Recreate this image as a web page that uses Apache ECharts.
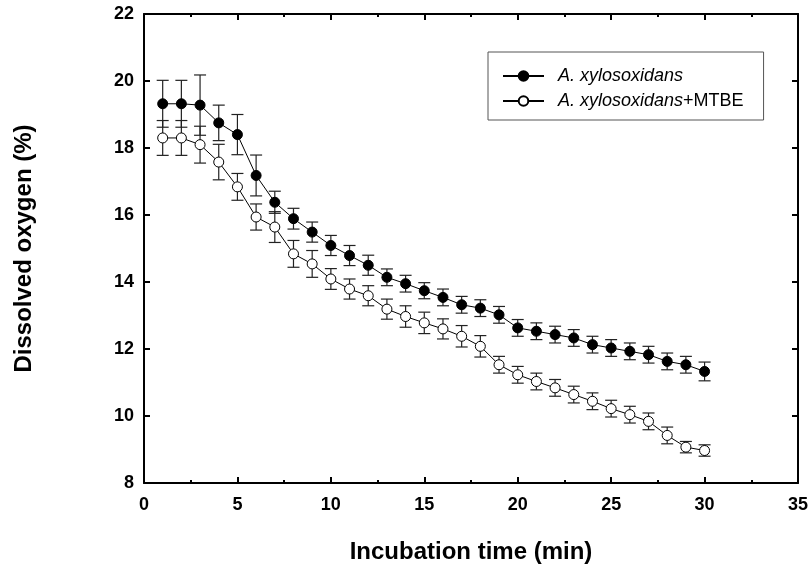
<!DOCTYPE html>
<html>
<head>
<meta charset="utf-8">
<script src="https://cdn.jsdelivr.net/npm/echarts@6/dist/echarts.min.js"></script>
<style>html,body{margin:0;padding:0;background:#fff}#c{width:811px;height:564px}</style>
</head>
<body>
<div id="c"></div>
<script>
const times = [1,2,3,4,5,6,7,8,9,10,11,12,13,14,15,16,17,18,19,20,21,22,23,24,25,26,27,28,29,30];
const seriesAName = 'A. xylosoxidans';
const seriesBName = 'A. xylosoxidans+MTBE';
const meanA = [19.32,19.32,19.28,18.75,18.40,17.18,16.38,15.89,15.49,15.09,14.79,14.50,14.14,13.95,13.74,13.54,13.32,13.22,13.02,12.63,12.53,12.43,12.33,12.13,12.03,11.93,11.83,11.63,11.53,11.33];
const errA  = [0.70,0.70,0.90,0.53,0.60,0.61,0.33,0.31,0.30,0.30,0.30,0.30,0.25,0.25,0.24,0.25,0.25,0.25,0.25,0.25,0.25,0.25,0.25,0.25,0.25,0.25,0.25,0.25,0.25,0.28];
const meanB = [18.30,18.30,18.10,17.58,16.84,15.94,15.64,14.84,14.54,14.09,13.79,13.59,13.19,12.97,12.78,12.60,12.38,12.08,11.53,11.23,11.03,10.84,10.64,10.44,10.22,10.04,9.84,9.42,9.07,8.97];
const errB  = [0.52,0.52,0.55,0.53,0.40,0.39,0.46,0.40,0.40,0.31,0.30,0.30,0.30,0.32,0.32,0.30,0.32,0.32,0.25,0.25,0.25,0.25,0.25,0.25,0.25,0.25,0.25,0.25,0.17,0.17];
const xTitle = 'Incubation time (min)';
const yTitle = 'Dissolved oxygen (%)';

const FONT = '"Liberation Sans", Arial, Helvetica, sans-serif';
const pts = (m) => times.map((t, i) => [t, m[i]]);
const errData = (m, e) => times.map((t, i) => [t, m[i], e[i]]);

function errRender(params, api) {
  const x = api.value(0), y = api.value(1), e = api.value(2);
  const top = api.coord([x, y + e]);
  const bot = api.coord([x, y - e]);
  const hw = 6;
  const st = {stroke: '#222', lineWidth: 1.2};
  return {
    type: 'group',
    children: [
      {type: 'line', shape: {x1: top[0], y1: top[1], x2: bot[0], y2: bot[1]}, style: st},
      {type: 'line', shape: {x1: top[0]-hw, y1: top[1], x2: top[0]+hw, y2: top[1]}, style: st},
      {type: 'line', shape: {x1: bot[0]-hw, y1: bot[1], x2: bot[0]+hw, y2: bot[1]}, style: st}
    ]
  };
}

const axisLineStyle = {color: '#000', width: 2};
const chart = echarts.init(document.getElementById('c'), null, {renderer: 'canvas'});
chart.setOption({
  animation: false,
  backgroundColor: '#fff',
  textStyle: {fontFamily: FONT},
  grid: {left: 144, right: 13, top: 14, bottom: 81, containLabel: false, outerBoundsMode: 'none'},
  legend: {
    data: [seriesAName, seriesBName],
    orient: 'vertical',
    left: 488, top: 52,
    padding: [14, 20, 9, 14],
    itemGap: 5,
    itemWidth: 41, itemHeight: 12,
    borderColor: '#555', borderWidth: 1,
    backgroundColor: '#fff',
    formatter: function (name) {
      if (name === seriesBName) return '{i|A. xylosoxidans}{n|+MTBE}';
      return '{i|A. xylosoxidans}';
    },
    textStyle: {
      fontFamily: FONT, fontSize: 18, color: '#000', lineHeight: 20,
      rich: {
        i: {fontStyle: 'italic', fontSize: 18, fontFamily: FONT, color: '#000', padding: [0,0,0,9]},
        n: {fontSize: 18, fontFamily: FONT, color: '#000'}
      }
    }
  },
  xAxis: [{
    type: 'value', min: 0, max: 35, interval: 5, position: 'bottom',
    name: xTitle, nameLocation: 'middle', nameGap: 57,
    nameTextStyle: {fontFamily: FONT, fontSize: 24, fontWeight: 'bold', color: '#000'},
    axisLine: {show: true, onZero: false, lineStyle: axisLineStyle},
    axisTick: {show: true, inside: true, length: 6, lineStyle: {color: '#000', width: 2}},
    minorTick: {show: true, splitNumber: 2, length: 3, lineStyle: {color: '#000', width: 2}},
    splitLine: {show: false},
    axisLabel: {fontFamily: FONT, fontSize: 18, fontWeight: 'bold', color: '#000', margin: 13}
  }, {
    type: 'value', min: 0, max: 35, interval: 5, position: 'top',
    axisLine: {show: true, onZero: false, lineStyle: axisLineStyle},
    axisTick: {show: true, inside: true, length: 6, lineStyle: {color: '#000', width: 2}},
    minorTick: {show: true, splitNumber: 2, length: 3, lineStyle: {color: '#000', width: 2}},
    splitLine: {show: false},
    axisLabel: {show: false}
  }],
  yAxis: [{
    type: 'value', min: 8, max: 22, interval: 2, position: 'left',
    name: yTitle, nameLocation: 'middle', nameGap: 108,
    nameTextStyle: {fontFamily: FONT, fontSize: 24, fontWeight: 'bold', color: '#000'},
    axisLine: {show: true, onZero: false, lineStyle: axisLineStyle},
    axisTick: {show: true, inside: true, length: 6, lineStyle: {color: '#000', width: 2}},
    splitLine: {show: false},
    axisLabel: {fontFamily: FONT, fontSize: 18, fontWeight: 'bold', color: '#000', margin: 10}
  }, {
    type: 'value', min: 8, max: 22, interval: 2, position: 'right',
    axisLine: {show: true, onZero: false, lineStyle: axisLineStyle},
    axisTick: {show: true, inside: true, length: 6, lineStyle: {color: '#000', width: 2}},
    splitLine: {show: false},
    axisLabel: {show: false}
  }],
  series: [
    {type: 'custom', name: 'errA', xAxisIndex: 0, yAxisIndex: 0, renderItem: errRender,
     data: errData(meanA, errA), z: 1, silent: true},
    {type: 'custom', name: 'errB', xAxisIndex: 0, yAxisIndex: 0, renderItem: errRender,
     data: errData(meanB, errB), z: 1, silent: true},
    {type: 'line', name: seriesAName, data: pts(meanA), symbol: 'circle', symbolSize: 10,
     lineStyle: {color: '#000', width: 1}, itemStyle: {color: '#000', borderColor: '#000', borderWidth: 1}, z: 3},
    {type: 'line', name: seriesBName, data: pts(meanB), symbol: 'circle', symbolSize: 10,
     lineStyle: {color: '#000', width: 1}, itemStyle: {color: '#fff', borderColor: '#000', borderWidth: 1}, z: 3}
  ]
});
</script>
</body>
</html>
